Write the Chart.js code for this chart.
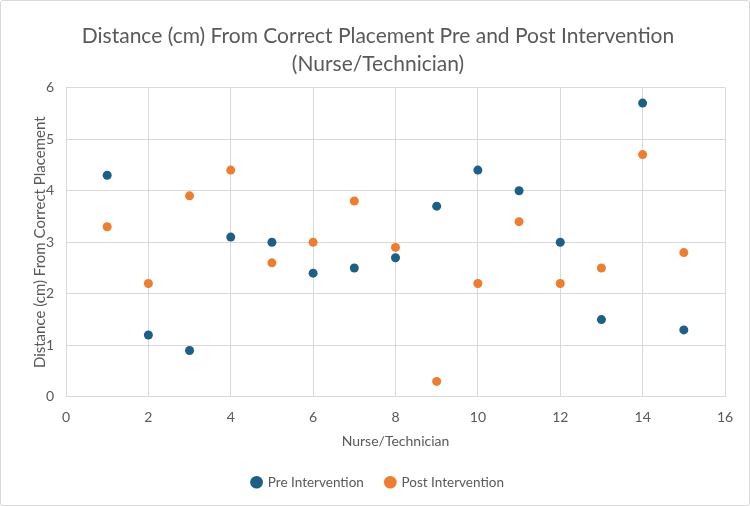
<!DOCTYPE html>
<html>
<head>
<meta charset="utf-8">
<script src="https://cdn.jsdelivr.net/npm/chart.js@4"></script>
<style>
  html, body { margin: 0; padding: 0; background: #fff; }
  #wrap { position: relative; width: 748px; height: 504px; border: 1px solid #d9d9d9; border-radius: 3px; }
</style>
</head>
<body>
<div id="wrap"><canvas id="chart" width="748" height="504"></canvas></div>
<script>
var xValues = [1, 2, 3, 4, 5, 6, 7, 8, 9, 10, 11, 12, 13, 14, 15];
var preValues = [4.3, 1.2, 0.9, 3.1, 3.0, 2.4, 2.5, 2.7, 3.7, 4.4, 4.0, 3.0, 1.5, 5.7, 1.3];
var postValues = [3.3, 2.2, 3.9, 4.4, 2.6, 3.0, 3.8, 2.9, 0.3, 2.2, 3.4, 2.2, 2.5, 4.7, 2.8];
var seriesNames = ['Pre Intervention', 'Post Intervention'];

var font = 'Lato, "Open Sans", sans-serif';
var textColor = '#595959';
var gridColor = '#d9d9d9';

function pts(ys) {
  return xValues.map((x, i) => ({ x: x, y: ys[i] }));
}

var ctx = document.getElementById('chart').getContext('2d');
var chart = new Chart(ctx, {
  type: 'scatter',
  data: {
    datasets: [
      {
        label: seriesNames[0],
        data: pts(preValues),
        pointRadius: 4.5,
        pointHoverRadius: 4.5,
        borderWidth: 0,
        backgroundColor: '#1e5f86',
        borderColor: '#1e5f86'
      },
      {
        label: seriesNames[1],
        data: pts(postValues),
        pointRadius: 4.5,
        pointHoverRadius: 4.5,
        borderWidth: 0,
        backgroundColor: '#ed7d31',
        borderColor: '#ed7d31'
      }
    ]
  },
  options: {
    responsive: false,
    animation: false,
    layout: { padding: { left: 30, right: 24, top: 0, bottom: 6 } },
    plugins: {
      title: {
        display: true,
        text: ['Distance (cm) From Correct Placement Pre and Post Intervention', '(Nurse/Technician)'],
        color: textColor,
        font: { family: font, size: 21, weight: 'normal', lineHeight: 1.3 },
        padding: { top: 22, bottom: 10 }
      },
      legend: {
        position: 'bottom',
        labels: {
          usePointStyle: true,
          pointStyle: 'circle',
          boxWidth: 9,
          boxHeight: 9,
          padding: 22,
          color: textColor,
          font: { family: font, size: 13.5 }
        }
      },
      tooltip: { enabled: false }
    },
    scales: {
      x: {
        type: 'linear',
        min: 0,
        max: 16,
        ticks: { stepSize: 2, color: textColor, font: { family: font, size: 14 }, padding: 12 },
        grid: { color: gridColor, drawTicks: false },
        border: { color: gridColor },
        title: { display: true, text: 'Nurse/Technician', color: textColor, font: { family: font, size: 14 }, padding: { top: -5, bottom: 4 } }
      },
      y: {
        min: 0,
        max: 6,
        ticks: { stepSize: 1, color: textColor, font: { family: font, size: 14 }, padding: 12 },
        grid: { color: gridColor, drawTicks: false },
        border: { color: gridColor },
        title: { display: true, text: 'Distance (cm) From Correct Placement', color: textColor, font: { family: font, size: 15 }, padding: { top: 0, bottom: 0 } },
        afterFit: function (scale) { scale.width = 35; }
      }
    }
  }
});
</script>
</body>
</html>
